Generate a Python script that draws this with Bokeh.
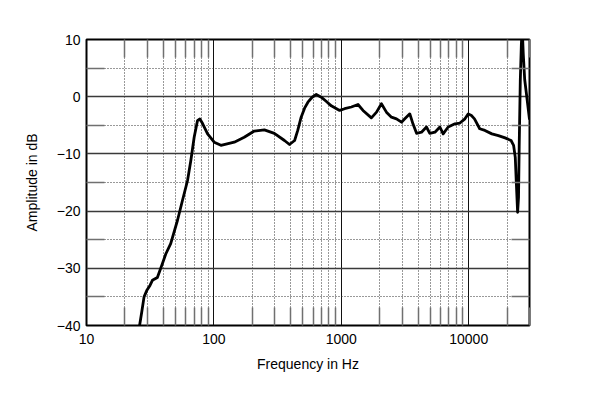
from bokeh.plotting import figure
from bokeh.models import Range1d, FixedTicker, LinearAxis, LogAxis
from bokeh.embed import file_html
from bokeh.resources import INLINE

freq_hz = [25.5, 26.1, 27.2, 28.3, 29.7, 31.5, 32.9, 36.0, 39.4, 41.9, 45.8, 51.8, 56.7,
           62.1, 65.9, 70.0, 74.3, 77.6, 81.5, 89.2, 100.5, 113.5, 144.5, 173, 207.6, 249,
           298, 358, 392, 430, 455, 484, 515, 547, 590, 636, 696, 760, 834, 970, 1062, 1199,
           1352, 1480, 1722, 1890, 2065, 2260, 2476, 2710, 2967, 3150, 3450, 3650, 3897,
           4260, 4660, 4950, 5430, 5940, 6300, 6900, 7800, 8530, 9340, 9920, 10500, 11100,
           12200, 13400, 15200, 17100, 19300, 21500, 22500, 23200, 23600, 24200, 24600,
           24900, 25400, 25900, 26300, 26800, 27500, 28600, 30000]
amplitude_db = [-41.5, -40, -37.5, -35, -33.9, -33.0, -32.1, -31.6, -29.2, -27.5, -25.7,
                -21.6, -18.1, -14.65, -11.15, -7.1, -4.2, -3.9, -4.7, -6.5, -7.95, -8.5,
                -7.95, -7.1, -6.0, -5.8, -6.4, -7.66, -8.36, -7.66, -5.9, -3.58, -2.0,
                -0.96, -0.1, 0.38, -0.08, -0.8, -1.6, -2.4, -2.1, -1.8, -1.36, -2.4, -3.7,
                -2.7, -1.24, -2.7, -3.58, -3.87, -4.46, -3.87, -3.0, -4.74, -6.4, -6.2, -5.3,
                -6.4, -6.2, -5.3, -6.5, -5.3, -4.74, -4.6, -3.87, -3.0, -3.3, -3.87, -5.6,
                -5.9, -6.5, -6.8, -7.2, -7.66, -8.5, -10.6, -14.65, -20.2, -17.6, -8.8, 2.8,
                9.2, 12.0, 7.5, 3.0, -0.1, -4.0]

x_major = [10, 100, 1000, 10000]
x_labels = {10: "10", 100: "100", 1000: "1000", 10000: "10000"}
x_minor = [m * d for d in (10, 100, 1000) for m in range(2, 10)] + [20000, 30000]
y_major = [-40, -30, -20, -10, 0, 10]
y_minor = [-35, -25, -15, -5, 5]

FONT = "Liberation Sans"

p = figure(width=590, height=385, x_axis_type="log",
           x_range=Range1d(10, 30000), y_range=Range1d(-40, 10),
           output_backend="svg", toolbar_location=None,
           min_border_left=86, min_border_right=61, min_border_top=39, min_border_bottom=60)

p.outline_line_color = "black"
p.outline_line_width = 2
p.background_fill_color = "white"
p.border_fill_color = "white"

xt = FixedTicker(ticks=x_major, minor_ticks=x_minor)
yt = FixedTicker(ticks=y_major, minor_ticks=y_minor)

p.xaxis.ticker = xt
p.yaxis.ticker = yt
p.xaxis.major_label_overrides = x_labels

for ax in (p.xaxis[0], p.yaxis[0]):
    ax.axis_line_color = None
    ax.major_tick_in = 0
    ax.major_tick_out = 0
    ax.minor_tick_in = 18
    ax.minor_tick_out = 0
    ax.minor_tick_line_color = "#707070"
    ax.minor_tick_line_width = 1.5
    ax.major_label_text_font = FONT
    ax.major_label_text_font_size = "14px"
    ax.major_label_text_color = "black"
    ax.axis_label_text_font = FONT
    ax.axis_label_text_font_size = "14px"
    ax.axis_label_text_font_style = "normal"
    ax.axis_label_text_color = "black"

p.xaxis.axis_label = "Frequency in Hz"
p.yaxis.axis_label = "Amplitude in dB"
p.xaxis.major_label_standoff = 8
p.yaxis.major_label_standoff = 6
p.xaxis.axis_label_standoff = 9
p.yaxis.axis_label_standoff = 14

ra = LinearAxis(ticker=yt, axis_line_color=None, major_tick_in=0, major_tick_out=0,
                minor_tick_in=18, minor_tick_out=0, minor_tick_line_color="#707070",
                minor_tick_line_width=1.5, major_label_text_color=None)
ta = LogAxis(ticker=xt, axis_line_color=None, major_tick_in=0, major_tick_out=0,
             minor_tick_in=18, minor_tick_out=0, minor_tick_line_color="#707070",
             minor_tick_line_width=1.5, major_label_text_color=None)
p.add_layout(ra, "right")
p.add_layout(ta, "above")

p.xgrid.grid_line_color = "#111111"
p.ygrid.grid_line_color = "#3a3a3a"
p.xgrid.grid_line_width = 1
p.ygrid.grid_line_width = 1.3
p.xgrid.minor_grid_line_color = "#333333"
p.ygrid.minor_grid_line_color = "#333333"
p.xgrid.minor_grid_line_dash = "1 2"
p.ygrid.minor_grid_line_dash = "1 2"
p.xgrid.minor_grid_line_width = 1
p.ygrid.minor_grid_line_width = 1

p.line(freq_hz, amplitude_db, line_color="black", line_width=2.8, line_join="round")

open("out.html", "w").write(file_html(p, INLINE))
